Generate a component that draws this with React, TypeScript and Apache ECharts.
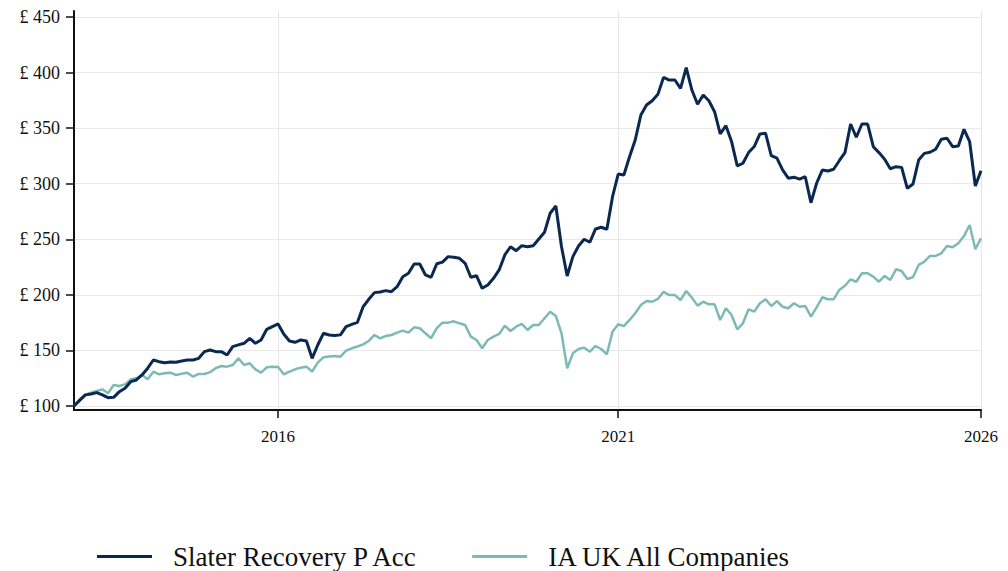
import React, { useEffect, useRef } from "react";
import * as echarts from "echarts";

// Monthly series, first point = January 2013
const START_YEAR = 2013;
const X_TICKS = [2016, 2021, 2026 + 4 / 12];
const X_TICK_LABELS = ["2016", "2021", "2026"];
const Y_TICKS = [100, 150, 200, 250, 300, 350, 400, 450];

const SERIES_NAMES = ["Slater Recovery P Acc", "IA UK All Companies"];

const slater = [
  100, 105, 110, 110.8, 112, 110, 107.5, 107.8, 112.9, 116, 121.9, 123.4,
  127.9, 134, 141.4, 139.9, 139, 139.6, 139.3, 140.5, 141.4, 141.4, 142.9, 148.9,
  150.4, 148.9, 148.9, 145.9, 153.4, 155, 156.4, 160.9, 156.4, 159.4, 169, 171.5,
  173.8, 164.8, 158.5, 157.3, 159.4, 158.5, 142.9, 154.9, 165.4, 163.9, 163.5, 164,
  171.4, 173.5, 175.3, 189.3, 196, 202, 202.6, 203.8, 202.8, 207.3, 216.3, 219.4,
  227.8, 227.8, 217.9, 215.8, 228, 229.5, 234.4, 233.8, 232.9, 228.4, 215.8, 217.2,
  205.9, 208.9, 214.9, 222.4, 235.9, 243.3, 239.7, 244.2, 243.3, 244.2, 250.3, 256.3,
  273.4, 280, 243.3, 217, 234.4, 244, 250, 247.3, 259.3, 260.8, 259, 288.3,
  308.7, 307.8, 324.3, 339.3, 361.8, 370.8, 374.7, 380.4, 395.7, 393.3, 393.3, 385.8,
  404.4, 384.3, 371.5, 379.8, 374.7, 364.8, 344.8, 352.2, 337.9, 316, 318.4, 328,
  333.4, 344.8, 345.4, 325.3, 323, 312.4, 305, 305.9, 304.1, 306.3, 282.9, 300.4,
  312.3, 311.4, 313, 320.7, 328, 353.7, 341.8, 353.7, 353.7, 333.3, 328, 322,
  313.5, 315.3, 314.7, 295.9, 299.7, 321.3, 327.3, 328.3, 331, 340, 340.9, 333.3,
  333.9, 349, 337.8, 298, 311.7,
];

const iaUk = [
  100, 106, 110, 112, 113.5, 115, 111.4, 118.9, 118, 119.5, 124, 124.9,
  127.9, 124, 130.9, 128.5, 129.5, 130, 127.9, 129, 130, 126.4, 128.8, 128.8,
  130.5, 134, 136, 135.4, 136.9, 142.9, 136.9, 138.4, 133, 130, 134.8, 135.4,
  135, 128.5, 130.9, 133, 134.5, 135.4, 130.9, 139, 143.8, 144.5, 145, 144.4,
  149.8, 151.9, 153.5, 155.5, 158.5, 163.9, 160.9, 163, 163.9, 166, 167.8, 166,
  170.8, 170, 165.4, 161, 170, 175, 175, 176.2, 174.4, 172.9, 162.4, 159.4,
  151.9, 159.4, 162.4, 164.8, 172.3, 167.5, 171.4, 173.8, 168.4, 172.9, 172.9, 178.9,
  184.8, 181, 165.4, 133.9, 147.4, 151.3, 152.5, 148.9, 154, 151.3, 146.5, 166.9,
  173.5, 171.9, 177.4, 183.4, 190.8, 194.4, 193.8, 196.3, 202.8, 199.8, 199.8, 195.4,
  203.5, 197.5, 190.3, 193.8, 191.5, 191.5, 177.4, 187.9, 181.9, 169, 174.4, 187,
  184.9, 192.4, 196, 190, 194.4, 189.3, 187.9, 192.4, 189.3, 190, 180.4, 188.8,
  197.8, 196, 196, 204.4, 208.2, 214, 211.8, 219.4, 219.4, 216.4, 211.8, 217,
  213.4, 223, 221.5, 214.3, 215.8, 226.9, 229.8, 235, 235, 237.4, 244, 242.8,
  246.4, 253, 262.9, 241, 250.9,
];

const COLORS = ["#0b2950", "#7dbab6"];
const FONT = "'Liberation Serif', 'Times New Roman', serif";

const toPairs = (vals: number[]) => vals.map((v, i) => [START_YEAR + i / 12, v]);

export default function App() {
  const ref = useRef<HTMLDivElement>(null);
  useEffect(() => {
    if (!ref.current) return;
    const chart = echarts.init(ref.current, undefined, { renderer: "svg" });
    chart.setOption({
      animation: false,
      backgroundColor: "#ffffff",
      textStyle: { fontFamily: FONT },
      grid: { left: 74, right: 27, top: 11, bottom: 161, containLabel: false },
      legend: {
        left: 97,
        top: 543,
        padding: 0,
        icon: "rect",
        itemWidth: 55,
        itemHeight: 3,
        itemGap: 54,
        textStyle: { fontSize: 27, color: "#111", fontFamily: FONT, padding: [0, 0, 0, 16] },
        data: SERIES_NAMES,
      },
      xAxis: {
        type: "value",
        min: START_YEAR,
        max: X_TICKS[X_TICKS.length - 1],
        axisLine: { show: true, onZero: false, lineStyle: { color: "#111", width: 2 } },
        axisTick: { show: true, length: 8, customValues: X_TICKS, lineStyle: { color: "#111", width: 1.5 } },
        axisLabel: {
          customValues: X_TICKS,
          formatter: (v: number) => X_TICK_LABELS[X_TICKS.findIndex((t) => Math.abs(t - v) < 1e-6)] ?? "",
          fontSize: 17,
          color: "#111",
          fontFamily: FONT,
          margin: 18,
          showMinLabel: true,
          showMaxLabel: true,
        },
        splitLine: { show: true, lineStyle: { color: "#e6e6e6", width: 1 } },
      },
      yAxis: {
        type: "value",
        min: 96.4,
        max: 455.4,
        axisLine: { show: true, lineStyle: { color: "#111", width: 2 } },
        axisTick: { show: true, length: 8, customValues: Y_TICKS, lineStyle: { color: "#111", width: 1.5 } },
        axisLabel: {
          customValues: Y_TICKS,
          formatter: (v: number) => "£ " + Math.round(v),
          fontSize: 18,
          color: "#111",
          fontFamily: FONT,
          margin: 14,
        },
        splitLine: { show: true, lineStyle: { color: "#e9e9e9", width: 1 } },
      },
      series: [
        {
          name: SERIES_NAMES[0],
          type: "line",
          data: toPairs(slater),
          showSymbol: false,
          lineStyle: { color: COLORS[0], width: 3 },
          itemStyle: { color: COLORS[0] },
          z: 3,
        },
        {
          name: SERIES_NAMES[1],
          type: "line",
          data: toPairs(iaUk),
          showSymbol: false,
          lineStyle: { color: COLORS[1], width: 2.5 },
          itemStyle: { color: COLORS[1] },
          z: 2,
        },
      ],
    });
    return () => chart.dispose();
  }, []);
  return (
    <div
      ref={ref}
      style={{ position: "fixed", left: 0, top: 0, width: 1008, height: 571, background: "#fff" }}
    />
  );
}
